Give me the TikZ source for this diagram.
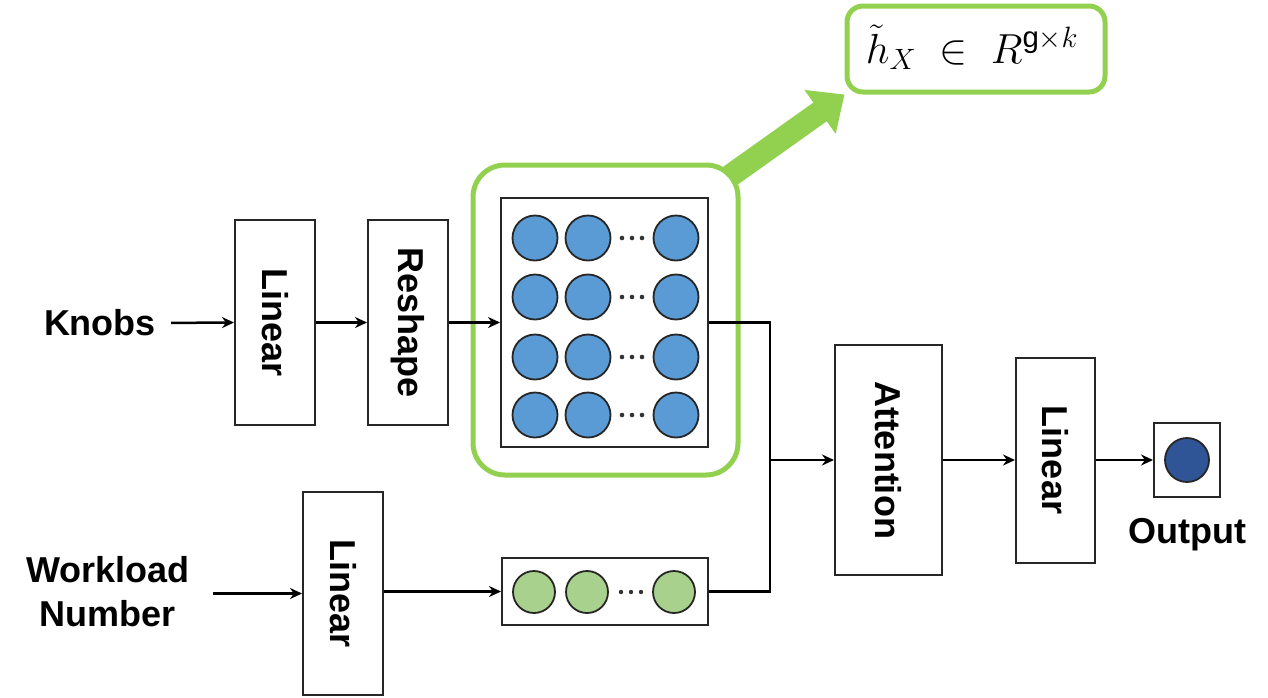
\RequirePackage{fix-cm}
\documentclass[tikz,border=0pt]{standalone}
\usepackage{fontspec}
\setmainfont{Liberation Sans}
\usetikzlibrary{arrows.meta}
\definecolor{lgreen}{HTML}{92D050}
\definecolor{cblue}{HTML}{5B9BD5}
\definecolor{cgreen}{HTML}{A9D18E}
\definecolor{cdark}{HTML}{2F5597}
\begin{document}
\begin{tikzpicture}[x=1pt,y=-1pt,
  box/.style={draw=black!85, line width=2pt, fill=white, inner sep=0pt},
  lbl/.style={font=\fontsize{36}{44}\selectfont\bfseries, inner sep=0pt},
  vlbl/.style={lbl, rotate=-90},
  conn/.style={line width=2.5pt, -{Stealth[length=12pt,width=11pt]}},
  plainline/.style={line width=2.5pt},
  bdot/.style={circle, draw=black!85, line width=1.8pt, fill=cblue, minimum size=45pt, inner sep=0pt},
  gdot/.style={circle, draw=black!85, line width=1.8pt, fill=cgreen, minimum size=42pt, inner sep=0pt},
  hilite/.style={draw=lgreen, line width=5pt, rounded corners=#1, inner sep=0pt}
]
\useasboundingbox (0,0) rectangle (1268,697);

% highlight around matrix
\node[hilite=32pt, minimum width=265pt, minimum height=310pt] (hl) at (605.5,320) {};

% boxes
\node[box, minimum width=80pt, minimum height=205pt] (lin1) at (275,322.5) {};
\node[vlbl] at (lin1) {Linear};
\node[box, minimum width=80pt, minimum height=205pt] (resh) at (408,322.5) {};
\node[vlbl] at (resh) {Reshape};
\node[box, minimum width=207pt, minimum height=249pt] (mat) at (604.5,322.5) {};
\node[box, minimum width=80pt, minimum height=203pt] (lin2) at (343,593.5) {};
\node[vlbl] at (lin2) {Linear};
\node[box, minimum width=206pt, minimum height=67pt] (grow) at (605,591.5) {};
\node[box, minimum width=107pt, minimum height=230pt] (att) at (888.5,460) {};
\node[vlbl] at (att) {Attention};
\node[box, minimum width=79pt, minimum height=205pt] (lin3) at (1055.5,460) {};
\node[vlbl] at (lin3) {Linear};
\node[box, minimum width=66pt, minimum height=74pt] (out) at (1187,460) {};

% matrix circles
\foreach \r/\y in {1/238,2/297,3/357,4/415}{
  \node[bdot] (b\r a) at (535,\y) {};
  \node[bdot] (b\r b) at (588,\y) {};
  \node[bdot] (b\r c) at (676,\y) {};
  \foreach \x in {622,632,642}{\fill[black!80] (\x,\y) circle (2.3pt);}
}
% green row
\node[gdot] (g1) at (534,592) {};
\node[gdot] (g2) at (587,592) {};
\node[gdot] (g3) at (674,592) {};
\foreach \x in {621,631,641}{\fill[black!80] (\x,592) circle (2.2pt);}

% output circle
\node[circle, draw=black!85, line width=1.8pt, fill=cdark, minimum size=44pt, inner sep=0pt] (oc) at (out) {};

% labels
\node[lbl] (knobs) at (100,323) {Knobs};
\node[lbl, align=center] (wl) at (108,592) {Workload\\Number};
\node[lbl] (outl) at (1187,535) {Output};

% connectors
\draw[conn, shorten <=15pt] (knobs.east) -- (lin1.west);
\draw[conn] (lin1.east) -- (resh.west);
\draw[conn] (resh.east) -- (mat.west);
\draw[conn, shorten <=23pt] (lin2.west -| wl.east) -- (lin2.west);
\draw[conn] (lin2.east |- grow.west) -- (grow.west);
\coordinate (m) at (770,460);
\draw[plainline] (mat.east) -| (m);
\draw[plainline] (grow.east) -| (m);
\draw[conn] (m) -- (att.west);
\draw[conn] (att.east) -- (lin3.west);
\draw[conn] (lin3.east) -- (out.west);

% formula box
\node[hilite=16pt, minimum width=258pt, minimum height=86pt] (fb) at (976,49) {};
\node[inner sep=0pt, font=\fontsize{42}{50}\selectfont] (fml) at (972,47) {$\tilde{h}_X \;\in\; R^{\mathrm{g}\times k}$};

% green arrow
\coordinate (gs) at (730,176);
\draw[lgreen, line width=23pt, -{Triangle[length=30pt,width=52pt]}] (gs) -- (fb.south west);
\end{tikzpicture}
\end{document}
